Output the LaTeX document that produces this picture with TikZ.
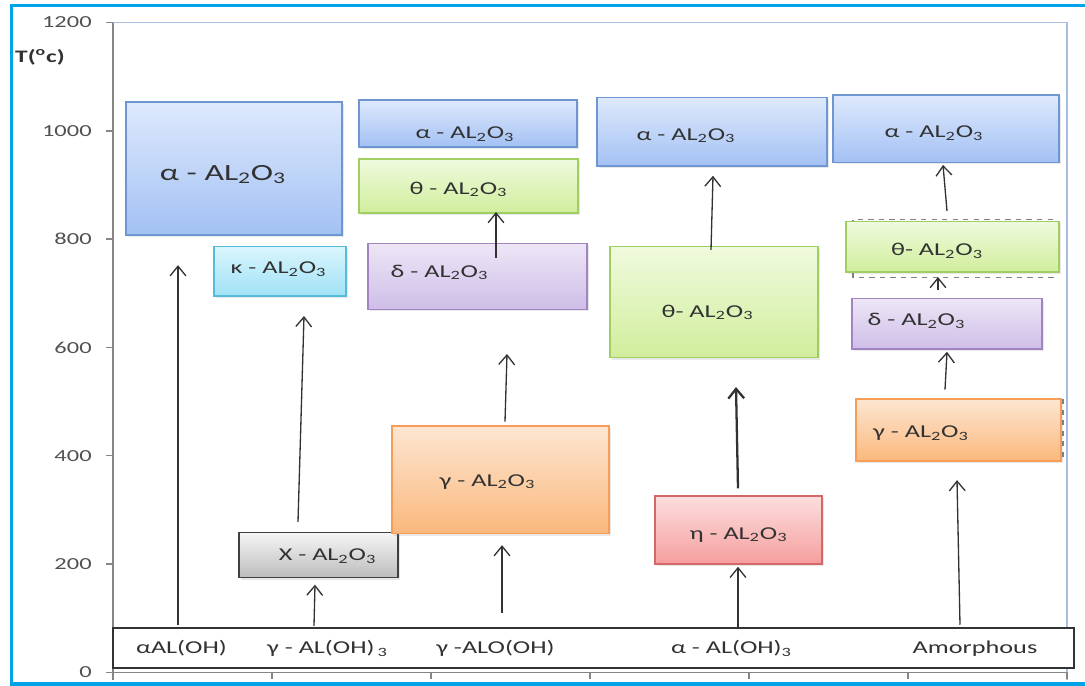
\documentclass[tikz,border=0pt]{standalone}
\usepackage{fontspec}
\setmainfont{Carlito}[FakeStretch=1.45]
\usepackage{tikz}
\usetikzlibrary{arrows.meta,shadows,fit}
\definecolor{framecyan}{RGB}{0,162,232}
\definecolor{plotline}{RGB}{168,190,226}
\definecolor{axisgray}{RGB}{134,134,134}
\definecolor{ink}{RGB}{50,50,50}
\definecolor{bluetop}{RGB}{222,233,252}
\definecolor{bluebot}{RGB}{163,193,244}
\definecolor{blueline}{RGB}{110,150,208}
\definecolor{greentop}{RGB}{240,250,222}
\definecolor{greenbot}{RGB}{208,238,156}
\definecolor{greenline}{RGB}{160,206,96}
\definecolor{violettop}{RGB}{237,230,246}
\definecolor{violetbot}{RGB}{206,190,232}
\definecolor{violetline}{RGB}{162,132,194}
\definecolor{orangetop}{RGB}{253,230,210}
\definecolor{orangebot}{RGB}{250,184,124}
\definecolor{orangeline}{RGB}{246,158,88}
\definecolor{cyantop}{RGB}{218,245,253}
\definecolor{cyanbot}{RGB}{160,226,246}
\definecolor{cyanline}{RGB}{84,188,218}
\definecolor{redtop}{RGB}{252,222,222}
\definecolor{redbot}{RGB}{246,158,158}
\definecolor{redline}{RGB}{212,104,104}
\definecolor{greytop}{RGB}{246,246,246}
\definecolor{greybot}{RGB}{188,188,188}
\definecolor{greyline}{RGB}{64,64,64}
\tikzset{>={Straight Barb[length=5.5pt,width=9pt]}}
\tikzset{%
    phase/.style={%
        inner sep=0pt, line width=0.8pt,
        drop shadow={opacity=0.18,shadow xshift=0.9pt,shadow yshift=-1.1pt},
        draw=#1line, top color=#1top, bottom color=#1bot
    },
    formula/.style={anchor=base, inner sep=0pt, text=ink, font=\fontsize{10.3}{12}\selectfont},
    ylabel/.style={anchor=east, inner sep=0pt, text=ink!85, font=\fontsize{9.6}{11}\selectfont},
    flow/.style={->, draw=ink, line width=0.75pt}
}
\newcommand{\aluoxide}{AL\textsubscript{2}O\textsubscript{3}}

\begin{document}
\begin{tikzpicture}[x=0.02cm, y=0.010833cm]
    \useasboundingbox (-113,-24.9) rectangle (972,1241.6);
    \draw[framecyan, line width=2pt] (1000,1231) -- (-101.5,1231) -- (-101.5,-21) -- (1000,-21);
%    \draw[very thin,gray!30] (0,0) grid (954,1200);
    \draw[plotline, line width=0.8pt] (0,1200) -- (954,1200) -- (954,-14);
    \draw[axisgray, line width=0.8pt] (0,-14) -- (0,1200);
    \draw[axisgray, line width=0.8pt] (0,0) -- (954,0);
    \foreach \t in {0,200,...,1200} {
        \draw[axisgray, line width=0.8pt] (-7,\t) -- (0,\t);
        \node[ylabel] (t\t) at (-21,\t) {\t};
    }
    \foreach \x in {0,159,...,954}
        \draw[axisgray, line width=0.8pt] (\x,0) -- (\x,-13);
    \node[text=ink, font=\bfseries\fontsize{10}{12}\selectfont] (unit) at (-73,1136) {T(\textsuperscript{o}c)};
    % dashed outlines behind the last column
    \draw[gray, dashed, line width=0.6pt] (740,729) rectangle (940,837);
    \draw[gray, dashed, line width=0.6pt] (745,393) rectangle (950,503);
\begin{scope}
        \node[phase=blue, fit={(13,808) (229,1053)}] (A) {};
        \node[phase=cyan, fit={(101,695) (233,786)}] (K) {};
        \node[phase=grey, fit={(126,175) (285,258)}] (X) {};
        \node[phase=blue, fit={(246,970) (464,1057)}] (B) {};
        \node[phase=green, fit={(246,848) (465,948)}] (C) {};
        \node[phase=violet, fit={(255,670) (474,792)}] (D) {};
        \node[phase=orange, fit={(279,256) (496,455)}] (E) {};
        \node[phase=blue, fit={(484,935) (714,1061)}] (F) {};
        \node[phase=green, fit={(497,581) (705,786)}] (G) {};
        \node[phase=red, fit={(542,200) (709,326)}] (H) {};
        \node[phase=blue, fit={(720,942) (946,1066)}] (I) {};
        \node[phase=green, fit={(733,739) (946,833)}] (J) {};
        \node[phase=violet, fit={(739,597) (929,690)}] (L) {};
        \node[phase=orange, fit={(743,390) (948,505)}] (M) {};
    \end{scope}
    \node[draw=black!80, line width=0.8pt, fill=white, inner sep=0pt, fit={(0,8) (961,82)}] (row) {};
    \node[formula, font=\fontsize{13.2}{15}\selectfont] (a) at (110,909) {α - \aluoxide};
    \node[formula] (k) at (165.5,736) {κ - \aluoxide};
    \node[formula] (x) at (214.5,206) {X - \aluoxide};
    \node[formula] (b) at (352,985) {α - \aluoxide};
    \node[formula] (c) at (345.5,883) {θ - \aluoxide};
    \node[formula] (d) at (326.5,730) {δ - \aluoxide};
    \node[formula] (e) at (374.5,344) {γ - \aluoxide};
    \node[formula] (f) at (573,983) {α - \aluoxide};
    \node[formula] (g) at (594.5,656) {θ- \aluoxide};
    \node[formula] (h) at (625.5,246) {η - \aluoxide};
    \node[formula] (i) at (821,987) {α - \aluoxide};
    \node[formula] (j) at (824,769) {θ- \aluoxide};
    \node[formula] (l) at (803.5,640) {δ - \aluoxide};
    \node[formula] (m) at (808,433) {γ - \aluoxide};
    \node[formula] (r1) at (68.5,34) {αAL(OH)};
    \node[formula] (r2) at (214.5,34) {γ - AL(OH)\,\textsubscript{3}};
    \node[formula] (r3) at (382.5,34) {γ -ALO(OH)};
    \node[formula] (r4) at (618.5,34) {α - AL(OH)\textsubscript{3}};
    \node[formula] (r5) at (862,34) {Amorphous};
    % arrow ends
    \coordinate (s1) at (65,88);   \coordinate (e1) at (65,752);
    \coordinate (s2) at (185,278); \coordinate (e2) at (191,658);
    \coordinate (s3) at (201,86);  \coordinate (e3) at (202,162);
    \coordinate (s4) at (389,110); \coordinate (e4) at (389,235);
    \coordinate (s5) at (392,463); \coordinate (e5) at (394,588);
    \coordinate (s6) at (383,765); \coordinate (e6) at (383,850);
    \coordinate (s7) at (598,780); \coordinate (e7) at (600,917);
    \coordinate (s8) at (625,340); \coordinate (e8) at (623,527);
    \coordinate (s9) at (625,82);  \coordinate (e9) at (625,195);
    \coordinate (s10) at (834,852); \coordinate (e10) at (830,937);
    \coordinate (s11) at (825,706); \coordinate (e11) at (825,730);
    \coordinate (s12) at (832,522); \coordinate (e12) at (834,592);
    \coordinate (s13) at (847,88);  \coordinate (e13) at (844,355);
    \foreach \n in {1,...,7,9,10,11,12,13}
        \draw[flow] (s\n) -- (e\n);
    \draw[flow, line width=1.3pt] (s8) -- (e8);
\end{tikzpicture}
\end{document}
